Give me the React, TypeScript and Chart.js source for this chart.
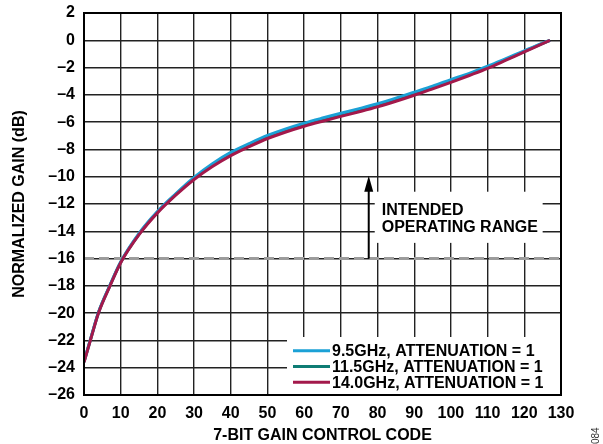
import React, { useEffect, useRef } from "react";
import { Chart, registerables } from "chart.js";

Chart.register(...registerables);

const codes = [0, 2, 4, 7, 10, 15, 20, 25, 30, 35, 40, 45, 50, 55, 60, 65, 70, 75, 80, 85, 90, 95, 100, 105, 110, 115, 120, 125, 127];
const gain95 = [-23.55, -21.7, -19.9, -18.0, -16.25, -14.15, -12.55, -11.25, -10.05, -9.05, -8.22, -7.57, -6.97, -6.49, -6.07, -5.7, -5.35, -5.01, -4.65, -4.24, -3.8, -3.36, -2.88, -2.42, -1.9, -1.34, -0.77, -0.21, 0];
const gain115 = [-23.58, -21.72, -19.92, -18.02, -16.27, -14.2, -12.6, -11.3, -10.12, -9.15, -8.33, -7.68, -7.08, -6.6, -6.18, -5.81, -5.46, -5.12, -4.76, -4.35, -3.91, -3.46, -2.98, -2.5, -1.98, -1.4, -0.81, -0.23, 0];
const gain140 = [-23.6, -21.75, -19.95, -18.05, -16.3, -14.25, -12.65, -11.35, -10.2, -9.25, -8.45, -7.8, -7.2, -6.72, -6.3, -5.93, -5.58, -5.24, -4.88, -4.47, -4.03, -3.56, -3.08, -2.58, -2.06, -1.46, -0.85, -0.25, 0];
const seriesLabels = ["9.5GHz, ATTENUATION = 1", "11.5GHz, ATTENUATION = 1", "14.0GHz, ATTENUATION = 1"];
const seriesColors = ["#1ba1d6", "#0e7c74", "#a3194b"];
const thresholdX = [0, 130];
const thresholdY = [-16, -16];
const arrowX = 77.6;
const arrowFrom = -16;
const arrowTo = -10;
const annotationLines = ["INTENDED", "OPERATING RANGE"];
const xTitle = "7-BIT GAIN CONTROL CODE";
const yTitle = "NORMALIZED GAIN (dB)";
const figureId = "084";

const FONT = "'Liberation Sans', Arial, Helvetica, sans-serif";

const overlayPlugin = {
  id: "overlay",
  afterDatasetsDraw(chart: any) {
    const { ctx, chartArea, scales } = chart;
    const xs = scales.x;
    const ys = scales.y;
    ctx.save();
    // annotation box
    const ax = xs.getPixelForValue(arrowX);
    const boxL = ax + 6;
    const boxR = xs.getPixelForValue(125);
    const boxT = ys.getPixelForValue(-11.1);
    const boxB = ys.getPixelForValue(-14.85);
    ctx.fillStyle = "#fff";
    ctx.fillRect(boxL, boxT, boxR - boxL, boxB - boxT);
    // arrow
    const y0 = ys.getPixelForValue(arrowFrom);
    const y1 = ys.getPixelForValue(arrowTo);
    ctx.strokeStyle = "#000";
    ctx.lineWidth = 2;
    ctx.beginPath();
    ctx.moveTo(ax, y0);
    ctx.lineTo(ax, y1 + 12);
    ctx.stroke();
    ctx.fillStyle = "#000";
    ctx.beginPath();
    ctx.moveTo(ax, y1 - 1);
    ctx.lineTo(ax - 4.5, y1 + 15);
    ctx.lineTo(ax + 4.5, y1 + 15);
    ctx.closePath();
    ctx.fill();
    // annotation text
    ctx.font = `bold 16px ${FONT}`;
    ctx.textAlign = "left";
    ctx.textBaseline = "alphabetic";
    ctx.fillText(annotationLines[0], ax + 13, boxT + 23);
    ctx.fillText(annotationLines[1], ax + 13, boxT + 40.5);

    // legend
    const lgL = chartArea.left + 203;
    const lgT = chartArea.bottom - 58;
    ctx.fillStyle = "#fff";
    ctx.fillRect(lgL, lgT, chartArea.right - lgL, chartArea.bottom - lgT);
    ctx.font = `bold 16px ${FONT}`;
    ctx.textBaseline = "middle";
    seriesLabels.forEach((lab, i) => {
      const yy = lgT + 13.7 + i * 15.8;
      ctx.strokeStyle = seriesColors[i];
      ctx.lineWidth = 3;
      ctx.beginPath();
      ctx.moveTo(lgL + 6, yy);
      ctx.lineTo(lgL + 43, yy);
      ctx.stroke();
      ctx.fillStyle = "#000";
      ctx.fillText(lab, lgL + 45, yy + 1);
    });

    // frame
    ctx.strokeStyle = "#000";
    ctx.lineWidth = 2;
    ctx.strokeRect(chartArea.left, chartArea.top, chartArea.right - chartArea.left, chartArea.bottom - chartArea.top);

    // figure id
    ctx.save();
    ctx.translate(596, 428);
    ctx.rotate(-Math.PI / 2);
    ctx.font = `10px ${FONT}`;
    ctx.fillStyle = "#333";
    ctx.textAlign = "left";
    ctx.textBaseline = "middle";
    ctx.fillText(figureId, -16, 0);
    ctx.restore();
    ctx.restore();
  },
};

export default function App() {
  const ref = useRef<HTMLCanvasElement | null>(null);
  useEffect(() => {
    if (!ref.current) return;
    const mk = (vals: number[]) => codes.map((c, i) => ({ x: c, y: vals[i] }));
    const chart = new Chart(ref.current, {
      type: "line",
      data: {
        datasets: [
          {
            label: "threshold",
            data: thresholdX.map((x, i) => ({ x, y: thresholdY[i] })),
            borderColor: "#9c9c9c",
            borderWidth: 3,
            borderDash: [10, 5],
            pointRadius: 0,
            order: 4,
          },
          {
            label: seriesLabels[1],
            data: mk(gain115),
            borderColor: seriesColors[1],
            borderWidth: 3,
            pointRadius: 0,
            cubicInterpolationMode: "monotone",
            order: 3,
          },
          {
            label: seriesLabels[0],
            data: mk(gain95),
            borderColor: seriesColors[0],
            borderWidth: 3,
            pointRadius: 0,
            cubicInterpolationMode: "monotone",
            order: 2,
          },
          {
            label: seriesLabels[2],
            data: mk(gain140),
            borderColor: seriesColors[2],
            borderWidth: 3,
            pointRadius: 0,
            cubicInterpolationMode: "monotone",
            order: 1,
          },
        ],
      },
      options: {
        responsive: false,
        animation: false,
        events: [],
        layout: { padding: { top: 13, right: 42, left: 0, bottom: 0 } },
        plugins: { legend: { display: false }, tooltip: { enabled: false } },
        scales: {
          x: {
            type: "linear",
            min: 0,
            max: 130,
            afterFit: (s: any) => {
              s.height = 49;
              s.paddingLeft = 0;
              s.paddingRight = 0;
            },
            ticks: {
              stepSize: 10,
              color: "#000",
              padding: 9,
              maxRotation: 0,
              font: { family: FONT, size: 16, weight: "bold" },
            },
            grid: { color: "#222", lineWidth: 1.4, drawTicks: false },
            border: { display: false },
            title: {
              display: true,
              text: xTitle,
              color: "#000",
              font: { family: FONT, size: 16, weight: "bold", lineHeight: 1 },
              padding: { top: 0, bottom: 0 },
            },
          },
          y: {
            type: "linear",
            min: -26,
            max: 2,
            afterFit: (s: any) => {
              s.width = 84;
              s.paddingTop = 0;
              s.paddingBottom = 0;
            },
            ticks: {
              stepSize: 2,
              color: "#000",
              padding: 9,
              font: { family: FONT, size: 16, weight: "bold" },
              callback: (v: any) => String(v).replace("-", "\u2013"),
            },
            grid: { color: "#222", lineWidth: 1.4, drawTicks: false },
            border: { display: false },
            title: {
              display: true,
              text: yTitle,
              color: "#000",
              font: { family: FONT, size: 16, weight: "bold" },
              padding: { top: 10, bottom: 0 },
            },
          },
        },
      },
      plugins: [overlayPlugin],
    });
    return () => chart.destroy();
  }, []);
  return (
    <div style={{ position: "absolute", left: 0, top: 0, width: 603, height: 444, background: "#fff" }}>
      <canvas ref={ref} width={603} height={444} />
    </div>
  );
}
